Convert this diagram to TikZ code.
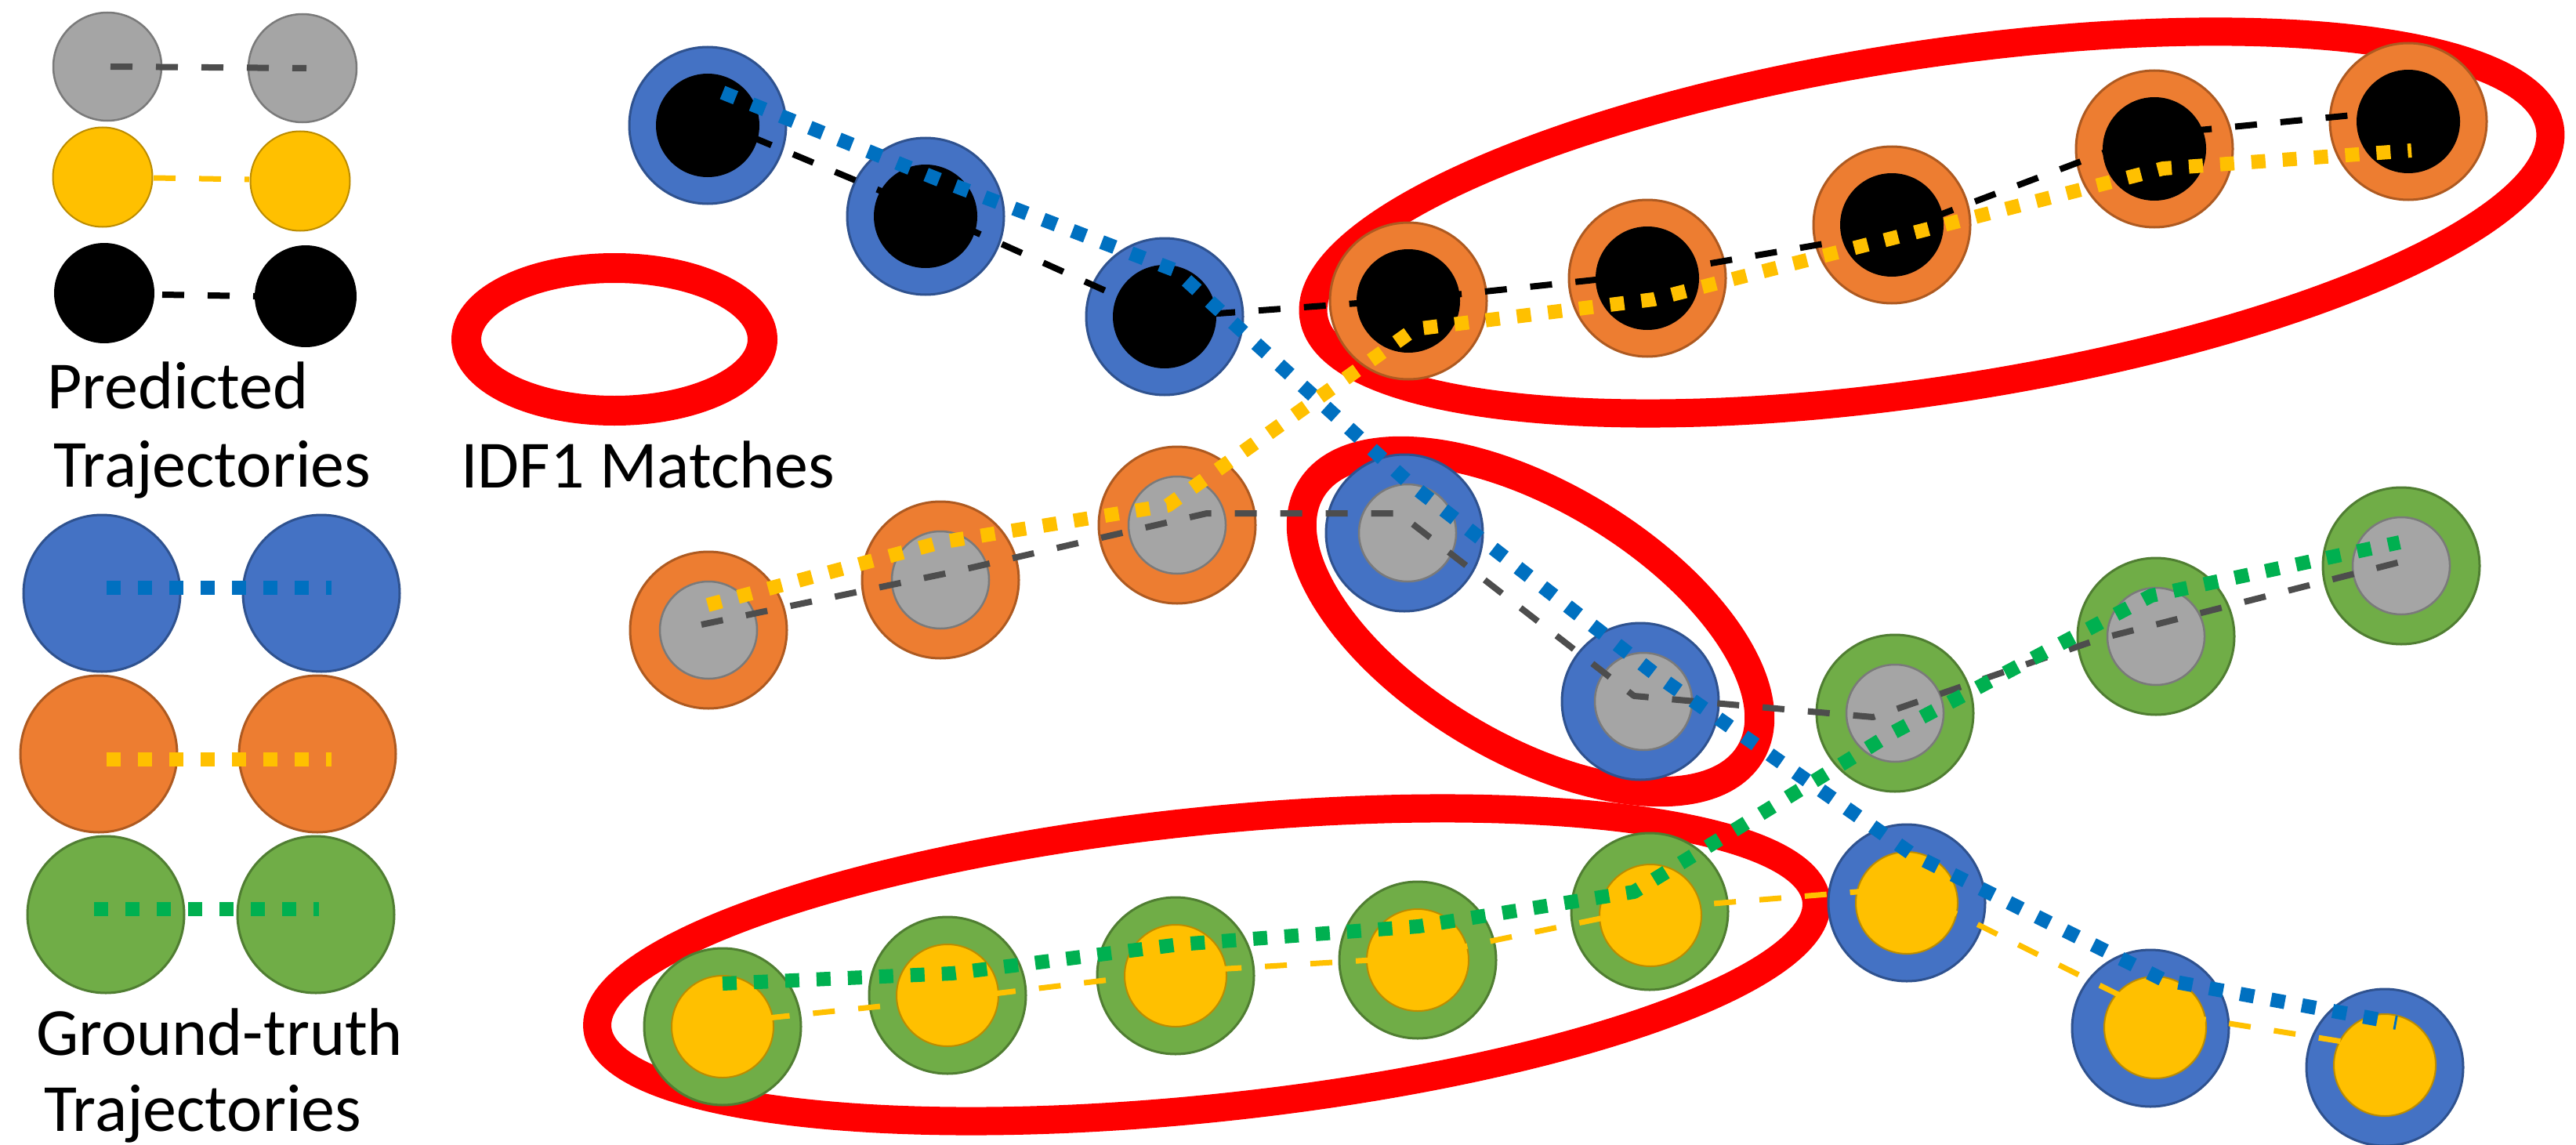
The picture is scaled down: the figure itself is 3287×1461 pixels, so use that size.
\documentclass[tikz,border=0pt]{standalone}
\usepackage{fontspec}
\setmainfont{Carlito}
\definecolor{cBlue}{HTML}{4472C4}\definecolor{cBlueD}{HTML}{2F528F}
\definecolor{cOrange}{HTML}{ED7D31}\definecolor{cOrangeD}{HTML}{AE5A21}
\definecolor{cGreen}{HTML}{70AD47}\definecolor{cGreenD}{HTML}{507E32}
\definecolor{cGray}{HTML}{A5A5A5}\definecolor{cGrayD}{HTML}{7A7A7A}
\definecolor{cYellow}{HTML}{FFC000}\definecolor{cYellowD}{HTML}{BC8C00}
\definecolor{lBlue}{HTML}{0070C0}\definecolor{lGreen}{HTML}{00B050}
\definecolor{lGray}{HTML}{4D4D4D}\definecolor{cRed}{HTML}{FF0000}
\begin{document}
\begin{tikzpicture}[x=1pt,y=-1pt,
  gtc/.style 2 args={circle,inner sep=0pt,outer sep=0pt,minimum size=200pt,fill=#1,draw=#2,line width=3pt},
  gtblue/.style={gtc={cBlue}{cBlueD}},
  gtorange/.style={gtc={cOrange}{cOrangeD}},
  gtgreen/.style={gtc={cGreen}{cGreenD}},
  inblack/.style={circle,inner sep=0pt,outer sep=0pt,minimum size=132pt,fill=black},
  ingray/.style={circle,inner sep=0pt,outer sep=0pt,minimum size=124pt,fill=cGray,draw=cGrayD,line width=2.5pt},
  inyellow/.style={circle,inner sep=0pt,outer sep=0pt,minimum size=130pt,fill=cYellow,draw=cYellowD,line width=2pt},
  lgsmall/.style 2 args={circle,inner sep=0pt,outer sep=0pt,minimum size=#1,fill=#2},
  gtline/.style={line width=18pt,dash pattern=on 18pt off 22pt,line join=round},
  predline/.style={line width=8pt,dash pattern=on 28pt off 30pt,line join=round},
  matchring/.style={draw=cRed,line width=36pt},
  lbl/.style={anchor=base west,inner sep=0pt,font=\fontsize{86}{100}\selectfont}
]
\useasboundingbox (0,0) rectangle (3287,1461);
\fill[white] (0,0) rectangle (3287,1461);

% ---------- IDF1 match ellipses ----------
\coordinate (E1) at (2465,284);
\coordinate (E2) at (1953,793);
\coordinate (E3) at (1540,1231);
\coordinate (E0) at (784,433);
\draw[matchring,rotate around={8.7:(E1)}] (E1) ellipse [x radius=798,y radius=214];
\draw[matchring,line width=38pt,rotate around={-31:(E2)}] (E2) ellipse [x radius=327,y radius=160];
\draw[matchring,rotate around={6:(E3)}] (E3) ellipse [x radius=782,y radius=183];
\draw[matchring,line width=38pt] (E0) ellipse [x radius=189,y radius=91];

% ---------- legend ----------
\node[lgsmall={138pt}{cGray},draw=cGrayD,line width=2.5pt] (LGa) at (137,85) {};
\node[lgsmall={138pt}{cGray},draw=cGrayD,line width=2.5pt] (LGb) at (386,87) {};
\draw[predline,cYellow,line width=7pt] (196,227) -- (318,229);
\node[lgsmall={127pt}{cYellow},draw=cYellowD,line width=2pt] (LYa) at (131,226) {};
\node[lgsmall={127pt}{cYellow},draw=cYellowD,line width=2pt] (LYb) at (383,231) {};
\node[lgsmall={128pt}{black}] (LKa) at (133,374) {};
\node[lgsmall={130pt}{black}] (LKb) at (390,378) {};
\draw[predline,black] (LKa.east) ++(10,2) -- (LKb.west);
\draw[predline,lGray] (141,85) -- (391,87);
\node[gtblue] (LBa) at (130,757) {};
\node[gtblue] (LBb) at (410,757) {};
\node[gtorange] (LOa) at (126,962) {};
\node[gtorange] (LOb) at (405,962) {};
\node[gtgreen] (LGra) at (135,1167) {};
\node[gtgreen] (LGrb) at (403,1167) {};
\draw[gtline,lBlue] (136,750) -- (423,750);
\draw[gtline,cYellow] (136,969) -- (423,969);
\draw[gtline,lGreen] (120,1160) -- (407,1160);

\node[lbl] (tPred) at (60,521) {Predicted};
\node[lbl] (tTraj1) at (68,621) {Trajectories};
\node[lbl] (tIDF) at (588,622) {IDF1 Matches};
\node[lbl] (tGT) at (46,1346) {Ground-truth};
\node[lbl] (tTraj2) at (56,1443) {Trajectories};

% ---------- circles ----------
\node[gtblue] (B1) at (903,160) {}; \node[inblack] (B1i) at (B1) {};
\node[gtblue] (B2) at (1181,276) {}; \node[inblack] (B2i) at (B2) {};
\node[gtblue] (B3) at (1486,404) {}; \node[inblack] (B3i) at (B3) {};
\node[gtorange] (O1) at (1797,384) {}; \node[inblack] (O1i) at (O1) {};
\node[gtorange] (O2) at (2102,355) {}; \node[inblack] (O2i) at (O2) {};
\node[gtorange] (O3) at (2414,287) {}; \node[inblack] (O3i) at (O3) {};
\node[gtorange] (O4) at (2749,190) {}; \node[inblack] (O4i) at (O4) {};
\node[gtorange] (O5) at (3073,155) {}; \node[inblack] (O5i) at (O5) {};
\node[gtorange] (P1) at (904,804) {}; \node[ingray] (P1i) at (P1) {};
\node[gtorange] (P2) at (1200,740) {}; \node[ingray] (P2i) at (P2) {};
\node[gtorange] (P3) at (1502,670) {}; \node[ingray] (P3i) at (P3) {};
\node[gtblue] (M1) at (1792,680) {}; \node[ingray] (M1i) at (1796,680) {};
\node[gtblue] (M2) at (2093,895) {}; \node[ingray] (M2i) at (2097,895) {};
\node[gtgreen] (G4) at (2418,910) {}; \node[ingray] (G4i) at (G4) {};
\node[gtgreen] (G5) at (2751,812) {}; \node[ingray] (G5i) at (G5) {};
\node[gtgreen] (G6) at (3064,722) {}; \node[ingray] (G6i) at (G6) {};
\node[gtgreen] (Y1) at (922,1310) {}; \node[inyellow] (Y1i) at (Y1) {};
\node[gtgreen] (Y2) at (1209,1270) {}; \node[inyellow] (Y2i) at (Y2) {};
\node[gtgreen] (Y3) at (1500,1245) {}; \node[inyellow] (Y3i) at (Y3) {};
\node[gtgreen] (Y4) at (1809,1225) {}; \node[inyellow] (Y4i) at (Y4) {};
\node[gtgreen] (Y5) at (2105,1163) {}; \node[inyellow] (Y5i) at (2106,1168) {};
\node[gtblue] (Z1) at (2433,1152) {}; \node[inyellow] (Z1i) at (Z1) {};
\node[gtblue] (Z2) at (2744,1312) {}; \node[inyellow] (Z2i) at (2750,1311) {};
\node[gtblue] (Z3) at (3043,1362) {}; \node[inyellow] (Z3i) at (3043,1359) {};

% ---------- trajectory points ----------
\coordinate (B1p) at (905,152); \coordinate (B2p) at (1182,268); \coordinate (B3p) at (1486,405);
\coordinate (O1p) at (1800,382); \coordinate (O2p) at (2102,350); \coordinate (O3p) at (2420,295);
\coordinate (O4p) at (2745,172); \coordinate (O5p) at (3073,140);
\coordinate (P1p) at (895,797); \coordinate (P2p) at (1215,730); \coordinate (P3p) at (1540,655);
\coordinate (M1p) at (1785,655); \coordinate (M2p) at (2085,888);
\coordinate (G4p) at (2390,915); \coordinate (G5p) at (2680,815); \coordinate (G6p) at (3063,717);
\coordinate (Y1p) at (922,1305); \coordinate (Y2p) at (1210,1275); \coordinate (Y3p) at (1500,1240);
\coordinate (Y4p) at (1800,1222); \coordinate (Y5p) at (2100,1160);
\coordinate (Z1p) at (2430,1133); \coordinate (Z2p) at (2745,1290); \coordinate (Z3p) at (3045,1338);
\coordinate (B1g) at (922,118); \coordinate (B2g) at (1200,230); \coordinate (B3g) at (1500,345);
\coordinate (M1g) at (1800,618); \coordinate (M2g) at (2113,861);
\coordinate (Z1g) at (2440,1090); \coordinate (Z2g) at (2760,1250); \coordinate (Z3g) at (3058,1305);
\coordinate (P1g) at (903,772); \coordinate (P2g) at (1200,692); \coordinate (P3g) at (1490,645);
\coordinate (O1g) at (1805,420); \coordinate (O2g) at (2110,382); \coordinate (O3g) at (2430,300);
\coordinate (O4g) at (2760,215); \coordinate (O5g) at (3077,192);
\coordinate (Y1g) at (922,1255); \coordinate (Y2g) at (1215,1242); \coordinate (Y3g) at (1505,1205);
\coordinate (Y4g) at (1810,1182); \coordinate (Y5g) at (2085,1138);
\coordinate (G4g) at (2415,935); \coordinate (G5g) at (2745,760); \coordinate (G6g) at (3062,692);

% ---------- trajectories ----------
\draw[predline,black] (B1p) -- (B2p) -- (B3p) -- (O1p) -- (O2p) -- (O3p) -- (O4p) -- (O5p);
\draw[predline,lGray] (P1p) -- (P2p) -- (P3p) -- (M1p) -- (M2p) -- (G4p) -- (G5p) -- (G6p);
\draw[predline,cYellow,line width=7pt] (Y1p) -- (Y2p) -- (Y3p) -- (Y4p) -- (Y5p) -- (Z1p) -- (Z2p) -- (Z3p);
\draw[gtline,lBlue] (B1g) -- (B2g) -- (B3g) -- (M1g) -- (M2g) -- (Z1g) -- (Z2g) -- (Z3g);
\draw[gtline,cYellow] (P1g) -- (P2g) -- (P3g) -- (O1g) -- (O2g) -- (O3g) -- (O4g) -- (O5g);
\draw[gtline,lGreen] (Y1g) -- (Y2g) -- (Y3g) -- (Y4g) -- (Y5g) -- (G4g) -- (G5g) -- (G6g);
\end{tikzpicture}
\end{document}
